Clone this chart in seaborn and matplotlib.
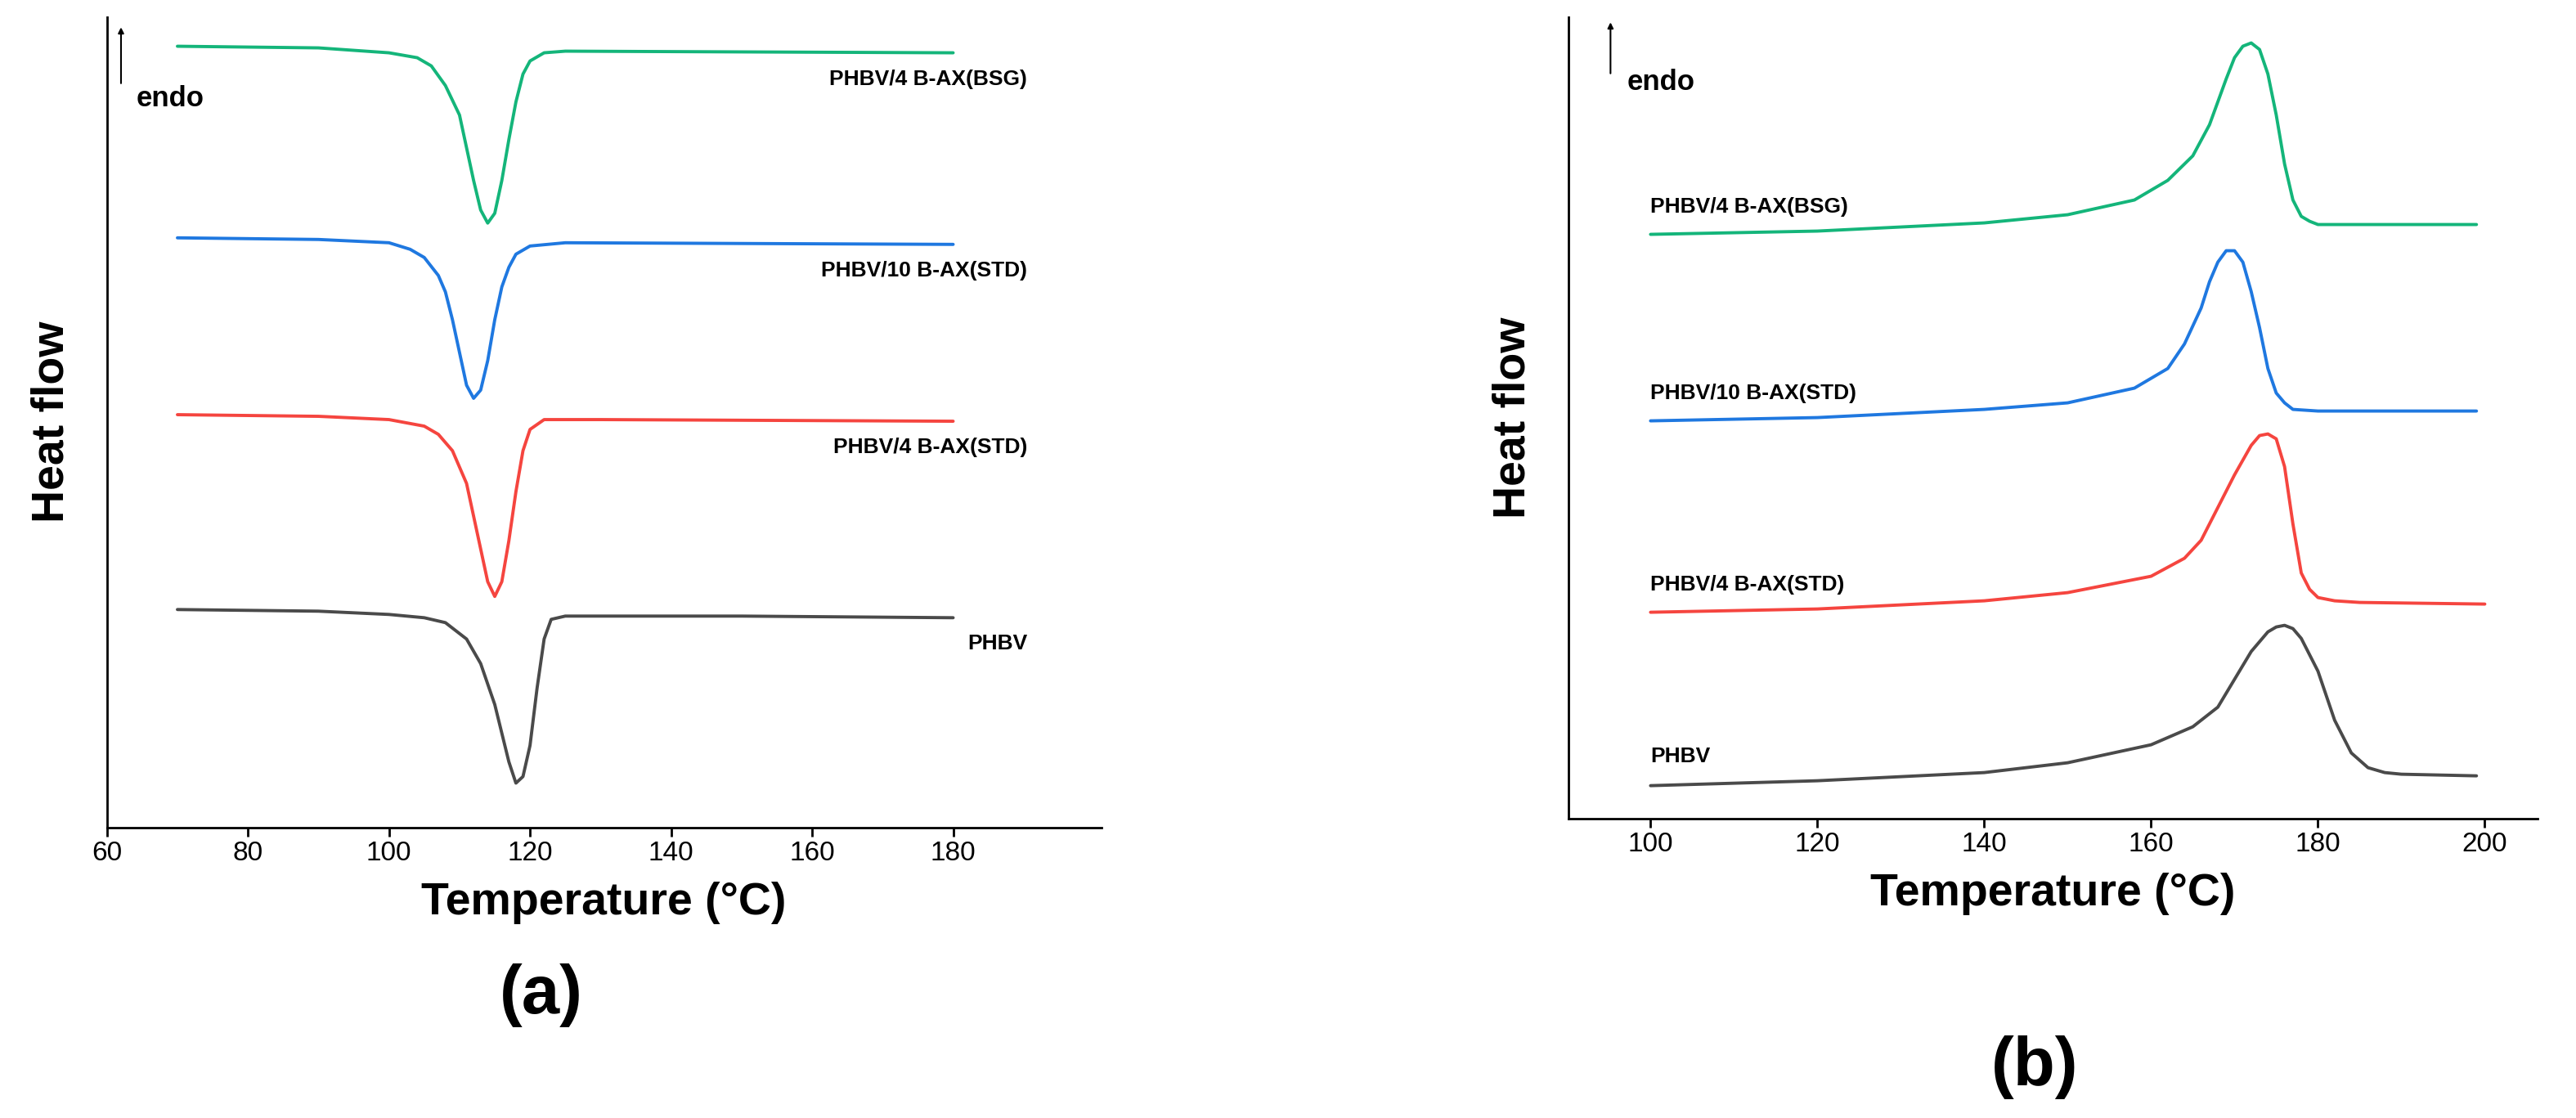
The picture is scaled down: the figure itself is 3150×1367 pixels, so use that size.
import matplotlib
matplotlib.use("Agg")
import matplotlib.pyplot as plt
import seaborn as sns
import pandas as pd

sns.set_style("ticks")
plt.rcParams['font.family'] = ['Liberation Sans', 'DejaVu Sans']
plt.rcParams['text.color'] = 'black'
plt.rcParams['axes.labelcolor'] = 'black'
plt.rcParams['xtick.color'] = 'black'
plt.rcParams['axes.edgecolor'] = 'black'

# (a) cooling curves: temperature and heat flow (relative units, endo up)
a_gray_T = [70,90,100,105,108,111,113,115,117,118,119,120,121,122,123,125,130,150,180]
a_gray_H = [372,373,375,377,380,390,405,430,465,478,474,455,420,390,378,376,376,376,377]
a_red_T = [70,90,100,105,107,109,111,112,113,114,115,116,117,118,119,120,122,130,180]
a_red_H = [253,254,256,260,265,275,295,315,335,355,364,355,330,300,275,262,256,256,257]
a_blue_T = [70,90,100,103,105,107,108,109,110,111,112,113,114,115,116,117,118,120,125,180]
a_blue_H = [145,146,148,152,157,168,178,195,215,235,243,238,220,195,175,163,155,150,148,149]
a_green_T = [70,90,100,104,106,108,110,111,112,113,114,115,116,117,118,119,120,122,125,180]
a_green_H = [28,29,32,35,40,52,70,90,110,128,136,130,110,85,62,45,37,32,31,32]

# (b) heating curves
b_gray_T = [100,120,140,150,160,165,168,170,172,174,175,176,177,178,180,182,184,186,188,190,199]
b_gray_H = [480,477,472,466,455,444,432,415,398,386,383,382,384,390,410,440,460,469,472,473,474]
b_red_T = [100,120,140,150,160,164,166,168,170,172,173,174,175,176,177,178,179,180,182,185,200]
b_red_H = [374,372,367,362,352,341,330,310,290,272,266,265,268,285,320,350,360,365,367,368,369]
b_blue_T = [100,120,140,150,158,162,164,166,167,168,169,170,171,172,173,174,175,176,177,180,199]
b_blue_H = [257,255,250,246,237,225,210,188,172,160,153,153,160,178,200,225,240,246,250,251,251]
b_green_T = [100,120,140,150,158,162,165,167,168,169,170,171,172,173,174,175,176,177,178,179,180,199]
b_green_H = [143,141,136,131,122,110,95,76,62,48,35,28,26,30,45,70,100,122,132,135,137,137]

names = ["PHBV", "PHBV/4 B-AX(STD)", "PHBV/10 B-AX(STD)", "PHBV/4 B-AX(BSG)"]
colors = ["#4a4a4a", "#f5453f", "#1f78e0", "#14b57a"]
a_label_y = [393, 273, 165, 48]
b_label_y = [462, 357, 240, 126]

fig = plt.figure(figsize=(31.5, 13.67), dpi=100)
axA = fig.add_axes([0.0415, 0.26, 0.386, 0.725])
axB = fig.add_axes([0.609, 0.268, 0.376, 0.717])

a_data = [(a_gray_T, a_gray_H), (a_red_T, a_red_H), (a_blue_T, a_blue_H), (a_green_T, a_green_H)]
b_data = [(b_gray_T, b_gray_H), (b_red_T, b_red_H), (b_blue_T, b_blue_H), (b_green_T, b_green_H)]

for ax, data, ly, panel in [(axA, a_data, a_label_y, "a"), (axB, b_data, b_label_y, "b")]:
    for (T, H), c, n, y in zip(data, colors, names, ly):
        df = pd.DataFrame({"T": T, "H": [-h for h in H]})
        sns.lineplot(data=df, x="T", y="H", ax=ax, color=c, lw=2.8)
        if panel == "a":
            ax.text(190.5, -y, n, ha="right", va="center", fontsize=19, fontweight="bold")
        else:
            ax.text(100, -y, n, ha="left", va="center", fontsize=19, fontweight="bold")
    sns.despine(ax=ax)
    for s in ax.spines.values():
        s.set_linewidth(2)
    ax.set_yticks([])
    ax.set_ylabel("Heat flow", fontsize=40, fontweight="bold", labelpad=30)
    ax.set_xlabel("Temperature (°C)", fontsize=40, fontweight="bold", labelpad=14)
    ax.tick_params(axis="x", labelsize=24, width=2, length=8)

axA.set_xlim(60, 201)
axA.set_ylim(-505, -10)
axA.set_xticks([60, 80, 100, 120, 140, 160, 180])
axB.set_xlim(90.2, 206.3)
axB.set_ylim(-500, -10)
axB.set_xticks([100, 120, 140, 160, 180, 200])

axA.annotate("", xy=(62, -15), xytext=(62, -52),
             arrowprops=dict(arrowstyle="-|>", lw=1.5, color="black"))
axA.text(64.2, -60, "endo", fontsize=25, fontweight="bold", va="center")
axB.annotate("", xy=(95.2, -12), xytext=(95.2, -46),
             arrowprops=dict(arrowstyle="-|>", lw=1.5, color="black"))
axB.text(97.2, -50, "endo", fontsize=25, fontweight="bold", va="center")

fig.text(0.21, 0.11, "(a)", fontsize=60, fontweight="bold", ha="center", va="center")
fig.text(0.79, 0.045, "(b)", fontsize=60, fontweight="bold", ha="center", va="center")

fig.savefig("out.png", dpi=100)
